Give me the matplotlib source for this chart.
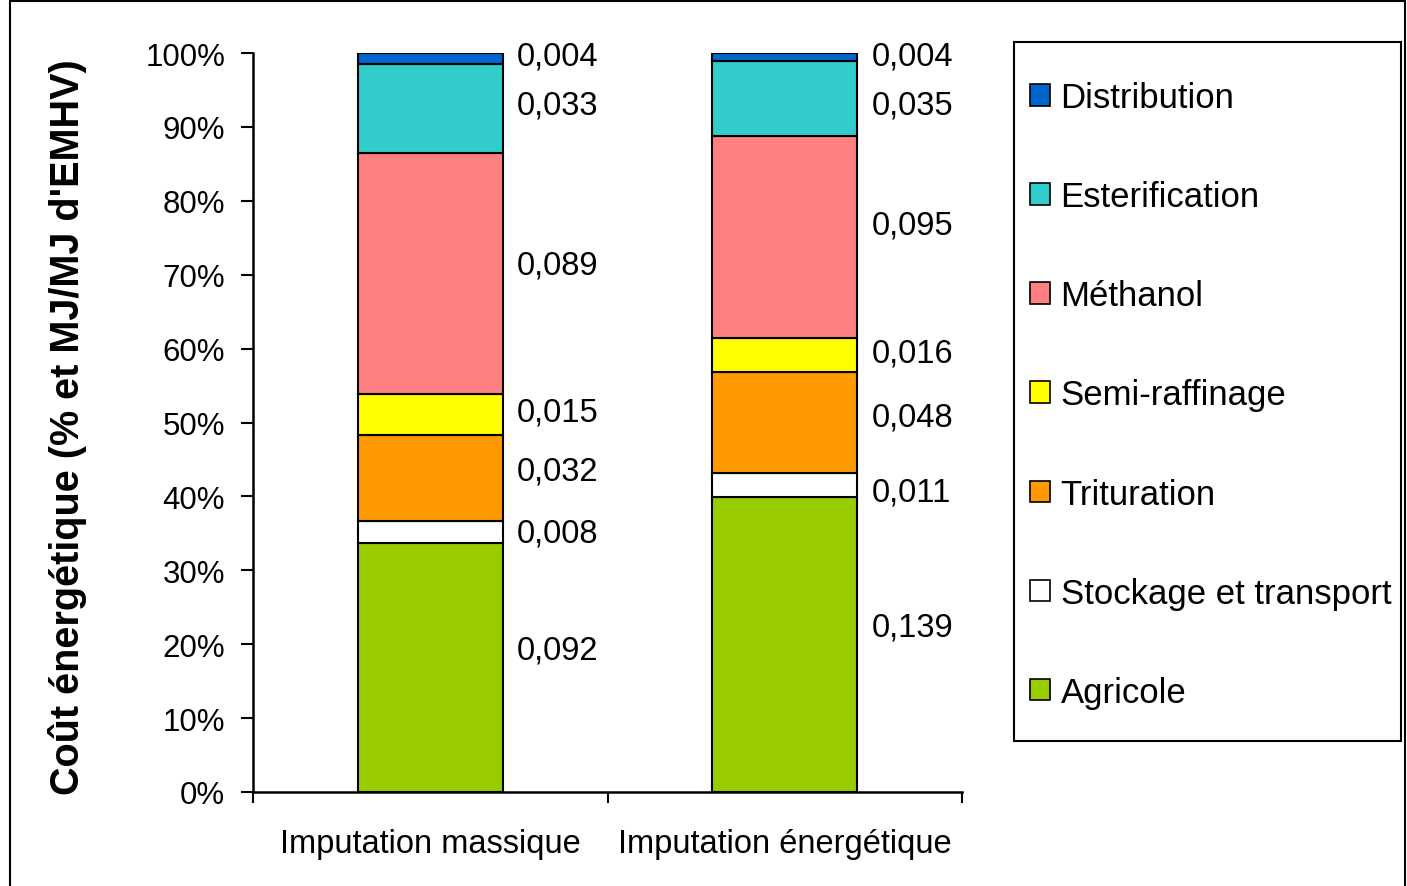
import matplotlib.pyplot as plt
import numpy as np
from matplotlib.patches import Patch, Rectangle

plt.rcParams["font.family"] = ["Liberation Sans", "DejaVu Sans"]

# energy cost per stage, MJ/MJ d'EMHV (bottom to top of each bar)
stages = ["Agricole", "Stockage et transport", "Trituration", "Semi-raffinage",
          "Méthanol", "Esterification", "Distribution"]
colors = ["#99CC00", "#FFFFFF", "#FF9900", "#FFFF00", "#FF8080", "#33CCCC", "#0066CC"]
categories = ["Imputation massique", "Imputation énergétique"]
massique = [0.092, 0.008, 0.032, 0.015, 0.089, 0.033, 0.004]
energetique = [0.139, 0.011, 0.048, 0.016, 0.095, 0.035, 0.004]

# vertical placement (in %) of the value labels next to each bar
label_y_massique = [19.2, 35.1, 43.4, 51.4, 71.3, 93.0, 99.6]
label_y_energetique = [22.3, 40.6, 50.8, 59.4, 76.7, 93.0, 99.6]

W, H = 1407, 887
fig = plt.figure(figsize=(W / 100, H / 100), dpi=100)

# outer frame
fig.patches.append(Rectangle((10 / W, -0.01), (1405 - 10) / W, 1 - 2 / H + 0.01,
                             transform=fig.transFigure, fill=False,
                             edgecolor="black", linewidth=1.5))

ax = fig.add_axes([253 / W, (H - 793) / H, (962 - 253) / W, (793 - 54) / H])

x = np.arange(len(categories))
data = np.array([massique, energetique])
pct = data / data.sum(axis=1, keepdims=True) * 100
bottom = np.zeros(len(categories))
for i, stage in enumerate(stages):
    ax.bar(x, pct[:, i], bottom=bottom, width=0.41, color=colors[i],
           edgecolor="black", linewidth=1.5, label=stage)
    bottom += pct[:, i]

for xi, vals, ys in zip(x, [massique, energetique], [label_y_massique, label_y_energetique]):
    for v, yy in zip(vals, ys):
        ax.text(xi + 0.245, yy, f"{v:.3f}".replace(".", ","), ha="left",
                va="center", fontsize=23.5)

ax.set_xlim(-0.5, 1.5)
ax.set_ylim(0, 100)
ax.set_yticks(np.arange(0, 101, 10))
ax.set_yticklabels([f"{t}%" for t in range(0, 101, 10)])
ax.set_xticks([-0.5, 0.5, 1.5], minor=False)
ax.set_xticklabels([])
ax.set_xticks(x, minor=True)
ax.set_xticklabels(categories, minor=True)
ax.tick_params(axis="x", which="minor", length=0, pad=26, labelsize=23.5)
ax.tick_params(axis="x", which="major", length=8, width=1.5, direction="out")
ax.tick_params(axis="y", length=9, width=1.5, pad=11, labelsize=22.5)

for s in ["top", "right"]:
    ax.spines[s].set_visible(False)
for s in ["left", "bottom"]:
    ax.spines[s].set_linewidth(1.8)

fig.text(68 / W, (H - 427) / H, "Coût énergétique (% et MJ/MJ d'EMHV)",
         rotation=90, ha="center", va="center", fontsize=28.5, fontweight="bold")

# legend box
fig.patches.append(Rectangle((1014 / W, (H - 742) / H), (1401 - 1014) / W,
                             (742 - 43) / H, transform=fig.transFigure,
                             fill=False, edgecolor="black", linewidth=1.5))

handles = [Patch(facecolor=c, edgecolor="black", linewidth=1.2) for c in colors][::-1]
fig.legend(handles, stages[::-1], loc="upper left",
           bbox_to_anchor=(1030 / W, 1 - 82 / H), fontsize=25,
           frameon=False, handlelength=0.58, handleheight=0.58,
           handletextpad=0.3, labelspacing=1.905, borderpad=0,
           borderaxespad=0)

fig.savefig("out.png", dpi=100)
